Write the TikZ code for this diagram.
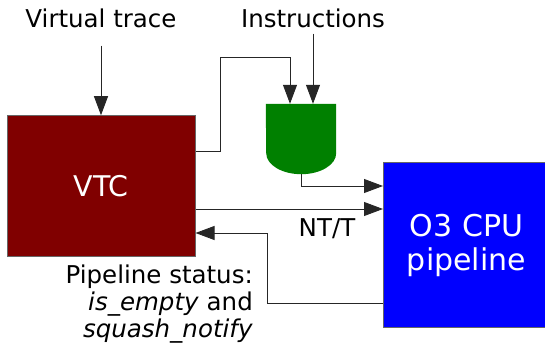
\documentclass[tikz,border=0pt]{standalone}
\usepackage{fontspec}
\setmainfont{DejaVu Sans}[ItalicFont={DejaVu Sans Oblique}]
\usetikzlibrary{arrows.meta}
\usetikzlibrary{calc}

\definecolor{vtcred}{RGB}{128,0,0}
\definecolor{gategreen}{RGB}{0,128,0}

\tikzset{
  conn/.style={draw=black!85, line width=0.9pt, -{Triangle[length=19pt,width=14pt]}},
  lbl/.style={font=\fontsize{24.5}{27}\selectfont, inner sep=0pt},
  blk/.style={draw=black!60, line width=1pt, text=white, align=center,
    font=\fontsize{30}{34}\selectfont, inner sep=0pt},
}

\begin{document}
\begin{tikzpicture}[x=1pt,y=-1pt]
\useasboundingbox (0,0) rectangle (545,347);

\node[blk, fill=vtcred, minimum width=187.5pt, minimum height=140.5pt,
  font=\fontsize{28.5}{34}\selectfont] (vtc) at (101.3,186) {VTC};
\node[blk, fill=blue, minimum width=166pt, minimum height=165pt] (cpu) at (466.5,245) {O3 CPU\\pipeline};

% gate
\node[minimum width=70pt, minimum height=49pt, inner sep=0pt] (gate) at (301,128.5) {};
\fill[gategreen] (gate.north west) -- (gate.north east) -- (gate.south east)
  arc[start angle=0, end angle=180, x radius=35, y radius=21] -- cycle;
\coordinate (gin1) at ($(gate.north)+(-11,0)$);
\coordinate (gin2) at ($(gate.north)+(12,0)$);
\coordinate (gout) at ($(gate.south)+(0,21)$);

\node[lbl] (vtrace) at (101,18) {Virtual trace};
\node[lbl] (instr) at (313,18) {Instructions};
\node[lbl] (ntt) at (327,229) {NT/T};
\node[lbl, align=right, anchor=north east] (status) at (253,265)
  {Pipeline status:\\\textit{is\_empty} and\\\textit{squash\_notify}};

\draw[conn] ($(vtrace.south)+(0,18)$) -- (vtc.north -| vtrace.south);
\draw[conn] ($(instr.south)+(0,6)$) -- (gin2);
\draw[conn] (vtc.east |- 0,151) -| (220,57) -| (gin1);
\draw[conn] (gout) |- (cpu.west |- 0,186);
\draw[conn] (vtc.east |- 0,209) -- (cpu.west |- 0,209);
\draw[conn] (cpu.west |- 0,303) -| (267,233) -- (vtc.east |- 0,233);

\end{tikzpicture}
\end{document}
